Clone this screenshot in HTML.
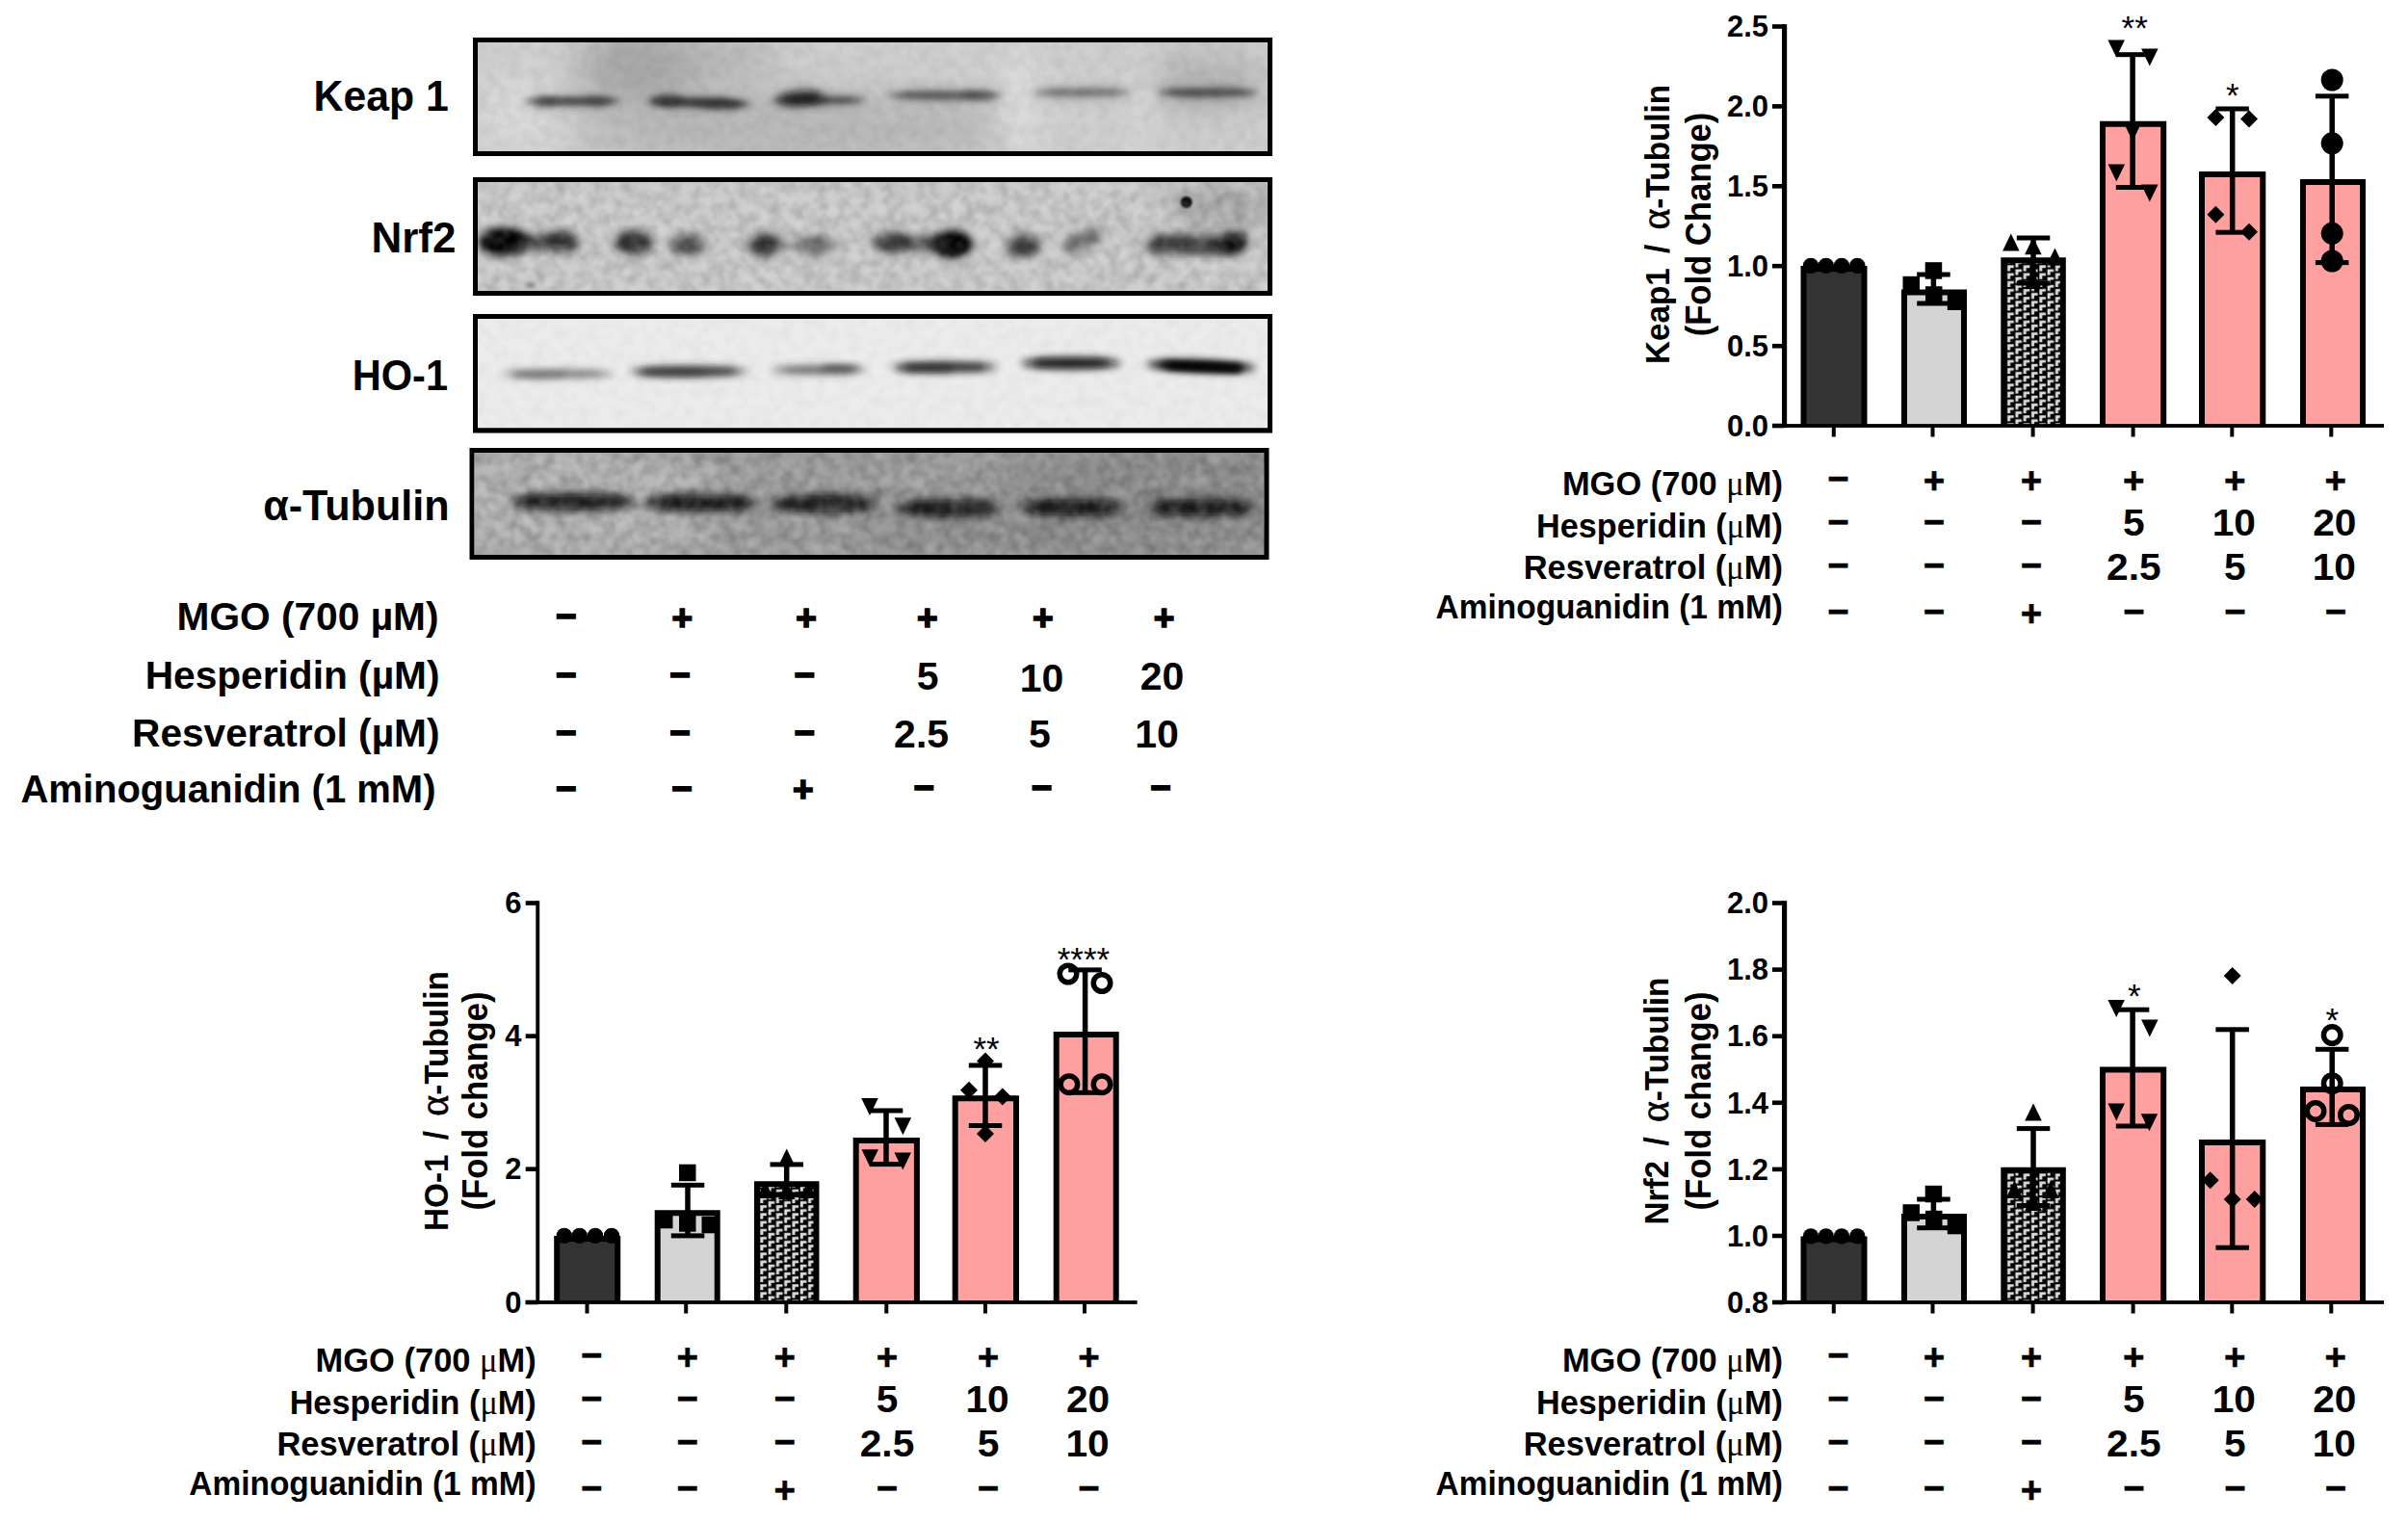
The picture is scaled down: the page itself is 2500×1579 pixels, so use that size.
<!DOCTYPE html>
<html lang="en"><head><meta charset="utf-8"><title>Keap1 / Nrf2 / HO-1 western blot and quantification</title>
<style>html,body{margin:0;padding:0;background:#fff}svg{display:block}text{font-family:"Liberation Sans", Arial, Helvetica, sans-serif;fill:#000}</style></head><body>
<svg width="2500" height="1579" viewBox="0 0 2500 1579">
<rect width="2500" height="1579" fill="#fff"/>
<defs>
<filter id="b1" x="-50%" y="-200%" width="200%" height="500%"><feGaussianBlur stdDeviation="1.2"/></filter>
<filter id="b2" x="-50%" y="-200%" width="200%" height="500%"><feGaussianBlur stdDeviation="2"/></filter>
<filter id="b3" x="-50%" y="-200%" width="200%" height="500%"><feGaussianBlur stdDeviation="3"/></filter>
<filter id="b4" x="-50%" y="-200%" width="200%" height="500%"><feGaussianBlur stdDeviation="4"/></filter>
<filter id="b5" x="-50%" y="-200%" width="200%" height="500%"><feGaussianBlur stdDeviation="5"/></filter>
<filter id="b6" x="-50%" y="-200%" width="200%" height="500%"><feGaussianBlur stdDeviation="6"/></filter>
<filter id="b8" x="-50%" y="-200%" width="200%" height="500%"><feGaussianBlur stdDeviation="8"/></filter>
<filter id="b12" x="-50%" y="-200%" width="200%" height="500%"><feGaussianBlur stdDeviation="12"/></filter>
<filter id="b20" x="-50%" y="-200%" width="200%" height="500%"><feGaussianBlur stdDeviation="20"/></filter>
<filter id="grain" x="0" y="0" width="100%" height="100%"><feTurbulence type="fractalNoise" baseFrequency="0.085" numOctaves="2" seed="7" result="n"/><feColorMatrix in="n" type="matrix" values="0 0 0 0 0  0 0 0 0 0  0 0 0 0 0  1.6 0 0 0 -0.55"/><feGaussianBlur stdDeviation="1.1"/></filter>
<filter id="grainL" x="0" y="0" width="100%" height="100%"><feTurbulence type="fractalNoise" baseFrequency="0.075" numOctaves="2" seed="11" result="n"/><feColorMatrix in="n" type="matrix" values="0 0 0 0 1  0 0 0 0 1  0 0 0 0 1  0 1.6 0 0 -0.55"/><feGaussianBlur stdDeviation="1.1"/></filter>
<pattern id="hatch" width="16.6" height="8.2" patternUnits="userSpaceOnUse"><rect width="16.6" height="8.2" fill="#000"/><path d="M0.8 0.6h6.6v2.9h-3.6v3.4h-3z" fill="#dcdcdc"/><path d="M9.1 4.7h6.6v2.9h-3.6v0.6h-3z M9.1 0h3v2.8h-3z" fill="#dcdcdc"/></pattern>
</defs>
<clipPath id="cb1"><rect x="496" y="44" width="820" height="113"/></clipPath>
<rect x="491" y="39" width="830" height="123" fill="#000"/>
<g clip-path="url(#cb1)">
<rect x="496" y="44" width="820" height="113" fill="#cfcfcf"/>
<rect x="496" y="44" width="820" height="113" fill="#cfcfcf"/>
<ellipse cx="660" cy="70" rx="60" ry="40" fill="#9c9c9c" opacity="0.8" filter="url(#b20)"/>
<ellipse cx="820" cy="135" rx="230" ry="40" fill="#b0b0b0" opacity="0.75" filter="url(#b20)"/>
<ellipse cx="720" cy="60" rx="90" ry="30" fill="#a6a6a6" opacity="0.6" filter="url(#b20)"/>
<ellipse cx="1250" cy="85" rx="70" ry="30" fill="#a8a8a8" opacity="0.7" filter="url(#b20)"/>
<ellipse cx="540" cy="120" rx="40" ry="40" fill="#dcdcdc" opacity="0.9" filter="url(#b20)"/>
<ellipse cx="1060" cy="110" rx="20" ry="60" fill="#dedede" opacity="0.8" filter="url(#b12)"/>
<ellipse cx="1185" cy="110" rx="18" ry="60" fill="#dadada" opacity="0.6" filter="url(#b12)"/>
<ellipse cx="595.0" cy="106" rx="51.0" ry="9" fill="#808080" opacity="0.35" filter="url(#b6)"/>
<ellipse cx="595.0" cy="105" rx="49.0" ry="4.0" fill="#303030" opacity="0.78" filter="url(#b3)"/>
<rect x="560" y="103.0" width="70" height="4" rx="2.0" fill="#303030" opacity="0.46799999999999997" filter="url(#b3)"/>
<ellipse cx="566" cy="106" rx="12" ry="6" fill="#2a2a2a" opacity="0.35" filter="url(#b3)"/>
<ellipse cx="622" cy="105" rx="14" ry="6" fill="#2a2a2a" opacity="0.3" filter="url(#b3)"/>
<ellipse cx="726.0" cy="107.5" rx="56.0" ry="10" fill="#808080" opacity="0.35" filter="url(#b6)" transform="rotate(1.5 726.0 107.5)"/>
<ellipse cx="726.0" cy="106.5" rx="54.0" ry="4.5" fill="#262626" opacity="0.8" filter="url(#b3)" transform="rotate(1.5 726.0 106.5)"/>
<rect x="686" y="104.0" width="80" height="5" rx="2.5" fill="#262626" opacity="0.48" filter="url(#b3)" transform="rotate(1.5 726.0 106.5)"/>
<ellipse cx="692" cy="104" rx="16" ry="7" fill="#1c1c1c" opacity="0.5" filter="url(#b3)"/>
<ellipse cx="748" cy="108.5" rx="22" ry="6" fill="#1c1c1c" opacity="0.35" filter="url(#b3)"/>
<ellipse cx="850.0" cy="105" rx="52.0" ry="8" fill="#808080" opacity="0.35" filter="url(#b6)"/>
<ellipse cx="850.0" cy="104" rx="50.0" ry="3.5" fill="#2c2c2c" opacity="0.72" filter="url(#b3)"/>
<rect x="814" y="102.5" width="72" height="3" rx="1.5" fill="#2c2c2c" opacity="0.432" filter="url(#b3)"/>
<ellipse cx="832" cy="102" rx="24" ry="8" fill="#0c0c0c" opacity="0.8" filter="url(#b4)" transform="rotate(-4 832 102)"/>
<ellipse cx="981.0" cy="100" rx="61.0" ry="9" fill="#808080" opacity="0.35" filter="url(#b6)"/>
<ellipse cx="981.0" cy="99" rx="59.0" ry="4.0" fill="#383838" opacity="0.68" filter="url(#b3)"/>
<rect x="936" y="97.0" width="90" height="4" rx="2.0" fill="#383838" opacity="0.40800000000000003" filter="url(#b3)"/>
<ellipse cx="1018" cy="99" rx="16" ry="6" fill="#2a2a2a" opacity="0.3" filter="url(#b3)"/>
<ellipse cx="1123.0" cy="97" rx="53.0" ry="8" fill="#808080" opacity="0.35" filter="url(#b6)"/>
<ellipse cx="1123.0" cy="96" rx="51.0" ry="3.5" fill="#444" opacity="0.58" filter="url(#b3)"/>
<rect x="1086" y="94.5" width="74" height="3" rx="1.5" fill="#444" opacity="0.348" filter="url(#b3)"/>
<ellipse cx="1253.5" cy="97" rx="53.5" ry="10" fill="#808080" opacity="0.35" filter="url(#b6)"/>
<ellipse cx="1253.5" cy="96" rx="51.5" ry="4.5" fill="#383838" opacity="0.7" filter="url(#b3)"/>
<rect x="1216" y="93.5" width="75" height="5" rx="2.5" fill="#383838" opacity="0.42" filter="url(#b3)"/>
<rect x="496" y="44" width="820" height="113" filter="url(#grain)" opacity="0.07"/>
<rect x="496" y="44" width="820" height="113" filter="url(#grainL)" opacity="0.06"/>
</g>
<clipPath id="cb2"><rect x="496" y="189" width="820" height="113"/></clipPath>
<rect x="491" y="184" width="830" height="123" fill="#000"/>
<g clip-path="url(#cb2)">
<rect x="496" y="189" width="820" height="113" fill="#c6c6c6"/>
<rect x="496" y="189" width="820" height="113" fill="#cbcbcb"/>
<ellipse cx="1270" cy="215" rx="60" ry="22" fill="#9a9a9a" opacity="0.7" filter="url(#b12)"/>
<ellipse cx="523" cy="251" rx="26" ry="15" fill="#000" opacity="1" filter="url(#b5)"/>
<ellipse cx="523" cy="251" rx="18" ry="10" fill="#000" opacity="1" filter="url(#b3)"/>
<ellipse cx="581" cy="251" rx="20" ry="11" fill="#1c1c1c" opacity="0.9" filter="url(#b5)"/>
<ellipse cx="552" cy="251" rx="16" ry="8" fill="#222" opacity="0.8" filter="url(#b5)"/>
<ellipse cx="658" cy="252" rx="20" ry="12" fill="#1a1a1a" opacity="0.92" filter="url(#b5)"/>
<ellipse cx="714" cy="254" rx="18" ry="11" fill="#2a2a2a" opacity="0.78" filter="url(#b5)"/>
<ellipse cx="794" cy="254" rx="17" ry="12" fill="#1c1c1c" opacity="0.9" filter="url(#b5)"/>
<ellipse cx="848" cy="255" rx="18" ry="11" fill="#333" opacity="0.62" filter="url(#b5)"/>
<ellipse cx="821" cy="255" rx="14" ry="6" fill="#444" opacity="0.4" filter="url(#b5)"/>
<ellipse cx="928" cy="252" rx="22" ry="11" fill="#222" opacity="0.85" filter="url(#b5)"/>
<ellipse cx="988" cy="253" rx="22" ry="14" fill="#000" opacity="1" filter="url(#b5)"/>
<ellipse cx="988" cy="255" rx="14" ry="10" fill="#000" opacity="0.9" filter="url(#b3)"/>
<ellipse cx="958" cy="253" rx="16" ry="8" fill="#222" opacity="0.7" filter="url(#b5)"/>
<ellipse cx="1063" cy="255" rx="17" ry="12" fill="#222" opacity="0.85" filter="url(#b5)"/>
<ellipse cx="1124" cy="250" rx="22" ry="10" fill="#333" opacity="0.6" filter="url(#b5)" transform="rotate(-25 1124 250)"/>
<rect x="1190" y="244.0" width="102" height="20" rx="10.0" fill="#262626" opacity="0.88" filter="url(#b5)"/>
<ellipse cx="1280" cy="252" rx="16" ry="10" fill="#000" opacity="0.95" filter="url(#b4)" transform="rotate(-25 1280 252)"/>
<circle cx="1231.7" cy="210" r="6" fill="#000" filter="url(#b1)"/>
<ellipse cx="551" cy="296" rx="4" ry="3" fill="#555" opacity="0.8" filter="url(#b2)"/>
<rect x="496" y="189" width="820" height="113" filter="url(#grain)" opacity="0.2"/>
<rect x="496" y="189" width="820" height="113" filter="url(#grainL)" opacity="0.24"/>
</g>
<clipPath id="cb3"><rect x="496" y="331" width="820" height="113.5"/></clipPath>
<rect x="491" y="326" width="830" height="123.5" fill="#000"/>
<g clip-path="url(#cb3)">
<rect x="496" y="331" width="820" height="113.5" fill="#ececec"/>
<ellipse cx="579.0" cy="388" rx="59.0" ry="4.5" fill="#444" opacity="0.55" filter="url(#b4)"/>
<rect x="534" y="386.0" width="90" height="4" rx="2.0" fill="#444" opacity="0.35750000000000004" filter="url(#b3)"/>
<ellipse cx="560" cy="389.5" rx="28" ry="4" fill="#444" opacity="0.3" filter="url(#b3)"/>
<ellipse cx="715.0" cy="385.5" rx="61.0" ry="5.5" fill="#222" opacity="0.75" filter="url(#b4)"/>
<rect x="668" y="382.5" width="94" height="6" rx="3.0" fill="#222" opacity="0.48750000000000004" filter="url(#b3)"/>
<ellipse cx="700" cy="387" rx="40" ry="4" fill="#222" opacity="0.35" filter="url(#b3)"/>
<ellipse cx="850.0" cy="384" rx="50.0" ry="4.5" fill="#333" opacity="0.6" filter="url(#b4)"/>
<rect x="814" y="382.0" width="72" height="4" rx="2.0" fill="#333" opacity="0.39" filter="url(#b3)"/>
<ellipse cx="872" cy="382" rx="20" ry="4" fill="#222" opacity="0.45" filter="url(#b3)"/>
<ellipse cx="981.0" cy="381" rx="55.0" ry="5.5" fill="#1c1c1c" opacity="0.8" filter="url(#b4)"/>
<rect x="940" y="378.0" width="82" height="6" rx="3.0" fill="#1c1c1c" opacity="0.52" filter="url(#b3)"/>
<ellipse cx="960" cy="383" rx="30" ry="4" fill="#111" opacity="0.4" filter="url(#b3)"/>
<ellipse cx="1112.0" cy="377" rx="52.0" ry="6.0" fill="#111" opacity="0.9" filter="url(#b4)"/>
<rect x="1074" y="373.5" width="76" height="7" rx="3.5" fill="#111" opacity="0.5850000000000001" filter="url(#b3)"/>
<ellipse cx="1247.0" cy="380" rx="57.0" ry="6.0" fill="#000" opacity="1" filter="url(#b4)" transform="rotate(2 1247.0 380)"/>
<rect x="1204" y="376.5" width="86" height="7" rx="3.5" fill="#000" opacity="0.65" filter="url(#b3)" transform="rotate(2 1247.0 380)"/>
<rect x="1212" y="378.0" width="76" height="7" rx="3.5" fill="#000" opacity="0.9" filter="url(#b3)" transform="rotate(3 1250.0 381.5)"/>
<rect x="496" y="331" width="820" height="113.5" filter="url(#grain)" opacity="0.04"/>
</g>
<clipPath id="cb4"><rect x="492.5" y="470" width="820.0" height="106"/></clipPath>
<rect x="487.5" y="465" width="830.0" height="116" fill="#000"/>
<g clip-path="url(#cb4)">
<rect x="492.5" y="470" width="820.0" height="106" fill="#9e9e9e"/>
<rect x="492" y="470" width="820" height="106" fill="#9e9e9e"/>
<ellipse cx="600" cy="520" rx="150" ry="70" fill="#b6b6b6" opacity="1" filter="url(#b20)"/>
<ellipse cx="1200" cy="520" rx="160" ry="70" fill="#8c8c8c" opacity="0.9" filter="url(#b20)"/>
<ellipse cx="1000" cy="560" rx="120" ry="20" fill="#8a8a8a" opacity="0.7" filter="url(#b12)"/>
<ellipse cx="594.5" cy="521" rx="66.5" ry="10" fill="#3a3a3a" opacity="0.55" filter="url(#b6)"/>
<ellipse cx="594.5" cy="521" rx="63.5" ry="7.5" fill="#1a1a1a" opacity="0.9" filter="url(#b4)"/>
<rect x="543" y="516.5" width="103" height="9" rx="4.5" fill="#141414" opacity="0.8" filter="url(#b4)"/>
<ellipse cx="727.5" cy="522" rx="61.5" ry="10" fill="#3a3a3a" opacity="0.55" filter="url(#b6)"/>
<ellipse cx="727.5" cy="522" rx="58.5" ry="7.5" fill="#1a1a1a" opacity="0.9" filter="url(#b4)"/>
<rect x="681" y="517.5" width="93" height="9" rx="4.5" fill="#141414" opacity="0.8" filter="url(#b4)"/>
<ellipse cx="856.0" cy="523" rx="58.0" ry="10" fill="#3a3a3a" opacity="0.55" filter="url(#b6)"/>
<ellipse cx="856.0" cy="523" rx="55.0" ry="7.5" fill="#1a1a1a" opacity="0.9" filter="url(#b4)"/>
<rect x="813" y="518.5" width="86" height="9" rx="4.5" fill="#141414" opacity="0.8" filter="url(#b4)"/>
<ellipse cx="984.5" cy="527.5" rx="58.5" ry="10" fill="#3a3a3a" opacity="0.55" filter="url(#b6)"/>
<ellipse cx="984.5" cy="527.5" rx="55.5" ry="7.5" fill="#1a1a1a" opacity="0.9" filter="url(#b4)"/>
<rect x="941" y="523.0" width="87" height="9" rx="4.5" fill="#141414" opacity="0.8" filter="url(#b4)"/>
<ellipse cx="1113.5" cy="527" rx="57.5" ry="10" fill="#3a3a3a" opacity="0.55" filter="url(#b6)"/>
<ellipse cx="1113.5" cy="527" rx="54.5" ry="7.5" fill="#1a1a1a" opacity="0.9" filter="url(#b4)"/>
<rect x="1071" y="522.5" width="85" height="9" rx="4.5" fill="#141414" opacity="0.8" filter="url(#b4)"/>
<ellipse cx="1247.0" cy="527" rx="59.0" ry="10" fill="#3a3a3a" opacity="0.55" filter="url(#b6)"/>
<ellipse cx="1247.0" cy="527" rx="56.0" ry="7.5" fill="#1a1a1a" opacity="0.9" filter="url(#b4)"/>
<rect x="1203" y="522.5" width="88" height="9" rx="4.5" fill="#141414" opacity="0.8" filter="url(#b4)"/>
<rect x="492.5" y="470" width="820.0" height="106" filter="url(#grain)" opacity="0.26"/>
<rect x="492.5" y="470" width="820.0" height="106" filter="url(#grainL)" opacity="0.22"/>
</g>
<text transform="translate(465.8 115.3) scale(0.972 1)" font-size="44" font-weight="bold" text-anchor="end" >Keap 1</text>
<text x="473.5" y="262" font-size="44" font-weight="bold" text-anchor="end" >Nrf2</text>
<text transform="translate(465 404.8) scale(0.945 1)" font-size="44" font-weight="bold" text-anchor="end" >HO-1</text>
<text transform="translate(466.5 539.5) scale(0.98 1)" font-size="44" font-weight="bold" text-anchor="end" >&#945;-Tubulin</text>
<text transform="translate(455.5 654.4) scale(1.017 1)" font-size="40" font-weight="bold" text-anchor="end" >MGO (700 &#181;M)</text>
<text transform="translate(456.5 715.2) scale(1.017 1)" font-size="40" font-weight="bold" text-anchor="end" >Hesperidin (&#181;M)</text>
<text transform="translate(456.5 774.8) scale(1.017 1)" font-size="40" font-weight="bold" text-anchor="end" >Resveratrol (&#181;M)</text>
<text transform="translate(452.5 833) scale(1.0 1)" font-size="40" font-weight="bold" text-anchor="end" >Aminoguanidin (1 mM)</text>
<text x="576.97" y="652.19" font-size="37" font-weight="bold" stroke="#000" stroke-width="1.6">&#8722;</text>
<text x="697.38" y="654.10" font-size="37" font-weight="bold" stroke="#000" stroke-width="1.6">+</text>
<text x="826.18" y="654.10" font-size="37" font-weight="bold" stroke="#000" stroke-width="1.6">+</text>
<text x="951.88" y="654.10" font-size="37" font-weight="bold" stroke="#000" stroke-width="1.6">+</text>
<text x="1072.08" y="654.10" font-size="37" font-weight="bold" stroke="#000" stroke-width="1.6">+</text>
<text x="1197.68" y="654.10" font-size="37" font-weight="bold" stroke="#000" stroke-width="1.6">+</text>
<text x="576.97" y="713.29" font-size="37" font-weight="bold" stroke="#000" stroke-width="1.6">&#8722;</text>
<text x="695.27" y="713.29" font-size="37" font-weight="bold" stroke="#000" stroke-width="1.6">&#8722;</text>
<text x="824.47" y="713.29" font-size="37" font-weight="bold" stroke="#000" stroke-width="1.6">&#8722;</text>
<text x="963.2" y="716.2" font-size="41" font-weight="bold" text-anchor="middle" >5</text>
<text x="1081.5" y="718" font-size="41" font-weight="bold" text-anchor="middle" >10</text>
<text x="1206.5" y="716.2" font-size="41" font-weight="bold" text-anchor="middle" >20</text>
<text x="576.97" y="772.69" font-size="37" font-weight="bold" stroke="#000" stroke-width="1.6">&#8722;</text>
<text x="695.27" y="772.69" font-size="37" font-weight="bold" stroke="#000" stroke-width="1.6">&#8722;</text>
<text x="824.47" y="772.69" font-size="37" font-weight="bold" stroke="#000" stroke-width="1.6">&#8722;</text>
<text x="956.6" y="775.6" font-size="41" font-weight="bold" text-anchor="middle" >2.5</text>
<text x="1079.5" y="775.6" font-size="41" font-weight="bold" text-anchor="middle" >5</text>
<text x="1201" y="775.6" font-size="41" font-weight="bold" text-anchor="middle" >10</text>
<text x="576.97" y="830.69" font-size="37" font-weight="bold" stroke="#000" stroke-width="1.6">&#8722;</text>
<text x="697.27" y="830.69" font-size="37" font-weight="bold" stroke="#000" stroke-width="1.6">&#8722;</text>
<text x="822.88" y="832.39" font-size="37" font-weight="bold" stroke="#000" stroke-width="1.6">+</text>
<text x="948.57" y="830.39" font-size="37" font-weight="bold" stroke="#000" stroke-width="1.6">&#8722;</text>
<text x="1070.77" y="830.39" font-size="37" font-weight="bold" stroke="#000" stroke-width="1.6">&#8722;</text>
<text x="1194.27" y="830.39" font-size="37" font-weight="bold" stroke="#000" stroke-width="1.6">&#8722;</text>
<path d="M1872.5 442.0V279.0H1935.5V442.0" fill="#333333" stroke="#000" stroke-width="6"/>
<path d="M1977.0 442.0V303.5H2039.0V442.0" fill="#d4d4d4" stroke="#000" stroke-width="6"/>
<path d="M2080.3 442.0V270.2H2141.8V442.0" fill="url(#hatch)" stroke="#000" stroke-width="6"/>
<path d="M2183.0 442.0V128.8H2246.2V442.0" fill="#ffa0a0" stroke="#000" stroke-width="6"/>
<path d="M2286.0 442.0V181.0H2349.3V442.0" fill="#ffa0a0" stroke="#000" stroke-width="6"/>
<path d="M2391.0 442.0V189.0H2453.0V442.0" fill="#ffa0a0" stroke="#000" stroke-width="6"/>
<circle cx="1880.0" cy="275.9" r="8.2"/>
<circle cx="1895.8" cy="275.9" r="8.2"/>
<circle cx="1912.0" cy="275.9" r="8.2"/>
<circle cx="1928.3" cy="275.9" r="8.2"/>
<path d="M2007.4 285.0V315.0" stroke="#000" stroke-width="5.5" fill="none"/>
<rect x="1990.2" y="282.5" width="34.5" height="5"/>
<rect x="1990.2" y="312.5" width="34.5" height="5"/>
<rect x="1998.7" y="272.2" width="17.5" height="17.5"/>
<rect x="1975.5" y="286.8" width="17.5" height="17.5"/>
<rect x="1999.0" y="297.2" width="17.5" height="17.5"/>
<rect x="2021.8" y="303.0" width="19" height="19"/>
<path d="M2111.0 247.0V294.0" stroke="#000" stroke-width="5.5" fill="none"/>
<rect x="2093.8" y="244.5" width="34.5" height="5"/>
<rect x="2093.8" y="291.5" width="34.5" height="5"/>
<path d="M2087.8 242.5L2096.6 260.5H2079.1Z"/>
<path d="M2110.8 246.2L2119.6 264.2H2102.1Z"/>
<path d="M2133.4 257.6L2142.2 275.6H2124.7Z"/>
<path d="M2111.0 282.0L2119.8 300.0H2102.2Z"/>
<path d="M2214.1 56.7V194.5" stroke="#000" stroke-width="5.5" fill="none"/>
<rect x="2196.8" y="54.2" width="34.5" height="5"/>
<rect x="2196.8" y="192.0" width="34.5" height="5"/>
<path d="M2188.4 41.5H2205.9L2197.2 59.5Z"/>
<path d="M2223.1 50.6H2240.6L2231.8 68.6Z"/>
<path d="M2205.3 128.5H2222.8L2214.1 146.5Z"/>
<path d="M2188.6 170.5H2206.1L2197.3 188.5Z"/>
<path d="M2223.1 191.5H2240.6L2231.8 209.5Z"/>
<text x="2216.2" y="41.0" font-size="35" font-weight="normal" text-anchor="middle" >**</text>
<path d="M2317.7 113.0V241.2" stroke="#000" stroke-width="5.5" fill="none"/>
<rect x="2300.4" y="110.5" width="34.5" height="5"/>
<rect x="2300.4" y="238.7" width="34.5" height="5"/>
<path d="M2300.4 113.0L2309.4 122.0L2300.4 131.0L2291.4 122.0Z"/>
<path d="M2335.0 114.6L2344.0 123.6L2335.0 132.6L2326.0 123.6Z"/>
<path d="M2300.4 213.7L2309.4 222.7L2300.4 231.7L2291.4 222.7Z"/>
<path d="M2335.0 231.8L2344.0 240.8L2335.0 249.8L2326.0 240.8Z"/>
<text x="2317.7" y="110.8" font-size="35" font-weight="normal" text-anchor="middle" >*</text>
<path d="M2421.2 99.8V272.6" stroke="#000" stroke-width="5.5" fill="none"/>
<rect x="2403.9" y="97.3" width="34.5" height="5"/>
<rect x="2403.9" y="270.1" width="34.5" height="5"/>
<circle cx="2421.2" cy="83.0" r="11.5"/>
<circle cx="2421.2" cy="148.8" r="11.5"/>
<circle cx="2421.2" cy="242.3" r="11.5"/>
<circle cx="2421.2" cy="271.0" r="11.5"/>
<rect x="1840.0" y="440.1" width="635" height="3.8"/>
<rect x="1850.0" y="25.2" width="5.2" height="418.8"/>
<rect x="1840.0" y="25.2" width="12.6" height="4.6"/>
<text x="1836" y="38.2" font-size="31" font-weight="bold" text-anchor="end" >2.5</text>
<rect x="1840.0" y="108.1" width="12.6" height="4.6"/>
<text x="1836" y="121.1" font-size="31" font-weight="bold" text-anchor="end" >2.0</text>
<rect x="1840.0" y="191.0" width="12.6" height="4.6"/>
<text x="1836" y="204.0" font-size="31" font-weight="bold" text-anchor="end" >1.5</text>
<rect x="1840.0" y="273.9" width="12.6" height="4.6"/>
<text x="1836" y="286.9" font-size="31" font-weight="bold" text-anchor="end" >1.0</text>
<rect x="1840.0" y="356.9" width="12.6" height="4.6"/>
<text x="1836" y="369.9" font-size="31" font-weight="bold" text-anchor="end" >0.5</text>
<rect x="1840.0" y="439.7" width="12.6" height="4.6"/>
<text x="1836" y="452.7" font-size="31" font-weight="bold" text-anchor="end" >0.0</text>
<rect x="1901.8" y="442.0" width="4" height="11.5"/>
<rect x="2004.5" y="442.0" width="4" height="11.5"/>
<rect x="2108.6" y="442.0" width="4" height="11.5"/>
<rect x="2212.6" y="442.0" width="4" height="11.5"/>
<rect x="2315.3" y="442.0" width="4" height="11.5"/>
<rect x="2418.3" y="442.0" width="4" height="11.5"/>
<text transform="translate(1732.6 233) rotate(-90) scale(0.925 1)" font-size="36" font-weight="bold" text-anchor="middle" word-spacing="6.5">Keap1 / <tspan font-style="normal" font-weight="normal" stroke="#000" stroke-width="0.7" font-family="'Liberation Serif', 'DejaVu Serif', serif" font-size="1.25em">&#945;</tspan>-Tubulin</text>
<text transform="translate(1775.5 233) rotate(-90) scale(0.962 1)" font-size="36" font-weight="bold" text-anchor="middle" word-spacing="0">(Fold Change)</text>
<path d="M1872.5 1352.0V1286.5H1935.5V1352.0" fill="#333333" stroke="#000" stroke-width="6"/>
<path d="M1977.0 1352.0V1262.9H2039.0V1352.0" fill="#d4d4d4" stroke="#000" stroke-width="6"/>
<path d="M2080.3 1352.0V1214.7H2141.8V1352.0" fill="url(#hatch)" stroke="#000" stroke-width="6"/>
<path d="M2183.0 1352.0V1110.4H2246.2V1352.0" fill="#ffa0a0" stroke="#000" stroke-width="6"/>
<path d="M2286.0 1352.0V1186.0H2349.3V1352.0" fill="#ffa0a0" stroke="#000" stroke-width="6"/>
<path d="M2391.0 1352.0V1131.0H2453.0V1352.0" fill="#ffa0a0" stroke="#000" stroke-width="6"/>
<circle cx="1880.0" cy="1283.4" r="8.2"/>
<circle cx="1895.8" cy="1283.4" r="8.2"/>
<circle cx="1912.0" cy="1283.4" r="8.2"/>
<circle cx="1928.3" cy="1283.4" r="8.2"/>
<path d="M2007.4 1245.0V1274.7" stroke="#000" stroke-width="5.5" fill="none"/>
<rect x="1990.2" y="1242.5" width="34.5" height="5"/>
<rect x="1990.2" y="1272.2" width="34.5" height="5"/>
<rect x="1998.7" y="1230.8" width="17.5" height="17.5"/>
<rect x="1975.5" y="1250.2" width="17.5" height="17.5"/>
<rect x="1999.0" y="1256.8" width="17.5" height="17.5"/>
<rect x="2021.8" y="1262.3" width="19" height="19"/>
<path d="M2111.0 1171.6V1251.6" stroke="#000" stroke-width="5.5" fill="none"/>
<rect x="2093.8" y="1169.1" width="34.5" height="5"/>
<rect x="2093.8" y="1249.1" width="34.5" height="5"/>
<path d="M2111.0 1145.4L2119.8 1163.4H2102.2Z"/>
<path d="M2091.3 1226.0L2100.1 1244.0H2082.6Z"/>
<path d="M2129.0 1226.0L2137.8 1244.0H2120.2Z"/>
<path d="M2111.0 1239.0L2119.8 1257.0H2102.2Z"/>
<path d="M2214.1 1048.2V1169.0" stroke="#000" stroke-width="5.5" fill="none"/>
<rect x="2196.8" y="1045.7" width="34.5" height="5"/>
<rect x="2196.8" y="1166.5" width="34.5" height="5"/>
<path d="M2188.4 1037.9H2205.9L2197.2 1055.9Z"/>
<path d="M2223.1 1058.4H2240.6L2231.8 1076.4Z"/>
<path d="M2188.4 1145.5H2205.9L2197.2 1163.5Z"/>
<path d="M2222.7 1156.2H2240.2L2231.4 1174.2Z"/>
<text x="2215.8" y="1045.7" font-size="35" font-weight="normal" text-anchor="middle" >*</text>
<path d="M2317.7 1068.8V1295.2" stroke="#000" stroke-width="5.5" fill="none"/>
<rect x="2300.4" y="1066.3" width="34.5" height="5"/>
<rect x="2300.4" y="1292.7" width="34.5" height="5"/>
<path d="M2317.7 1003.9L2326.7 1012.9L2317.7 1021.9L2308.7 1012.9Z"/>
<path d="M2294.7 1216.3L2303.7 1225.3L2294.7 1234.3L2285.7 1225.3Z"/>
<path d="M2317.7 1236.0L2326.7 1245.0L2317.7 1254.0L2308.7 1245.0Z"/>
<path d="M2340.7 1236.0L2349.7 1245.0L2340.7 1254.0L2331.7 1245.0Z"/>
<path d="M2421.2 1089.3V1167.4" stroke="#000" stroke-width="5.5" fill="none"/>
<rect x="2403.9" y="1086.8" width="34.5" height="5"/>
<rect x="2403.9" y="1164.9" width="34.5" height="5"/>
<circle cx="2421.2" cy="1074.5" r="8.75" fill="none" stroke="#000" stroke-width="5.5"/>
<circle cx="2421.2" cy="1124.7" r="8.75" fill="none" stroke="#000" stroke-width="5.5"/>
<circle cx="2404.0" cy="1153.4" r="8.75" fill="none" stroke="#000" stroke-width="5.5"/>
<circle cx="2438.5" cy="1157.5" r="8.75" fill="none" stroke="#000" stroke-width="5.5"/>
<text x="2421.2" y="1071.2" font-size="35" font-weight="normal" text-anchor="middle" >*</text>
<rect x="1840.0" y="1350.1" width="635" height="3.8"/>
<rect x="1850.0" y="935.2" width="5.2" height="418.8"/>
<rect x="1840.0" y="935.2" width="12.6" height="4.6"/>
<text x="1836" y="948.2" font-size="31" font-weight="bold" text-anchor="end" >2.0</text>
<rect x="1840.0" y="1004.3" width="12.6" height="4.6"/>
<text x="1836" y="1017.3" font-size="31" font-weight="bold" text-anchor="end" >1.8</text>
<rect x="1840.0" y="1073.4" width="12.6" height="4.6"/>
<text x="1836" y="1086.4" font-size="31" font-weight="bold" text-anchor="end" >1.6</text>
<rect x="1840.0" y="1142.5" width="12.6" height="4.6"/>
<text x="1836" y="1155.5" font-size="31" font-weight="bold" text-anchor="end" >1.4</text>
<rect x="1840.0" y="1211.6" width="12.6" height="4.6"/>
<text x="1836" y="1224.6" font-size="31" font-weight="bold" text-anchor="end" >1.2</text>
<rect x="1840.0" y="1280.7" width="12.6" height="4.6"/>
<text x="1836" y="1293.7" font-size="31" font-weight="bold" text-anchor="end" >1.0</text>
<rect x="1840.0" y="1349.7" width="12.6" height="4.6"/>
<text x="1836" y="1362.7" font-size="31" font-weight="bold" text-anchor="end" >0.8</text>
<rect x="1901.8" y="1352.0" width="4" height="11.5"/>
<rect x="2004.5" y="1352.0" width="4" height="11.5"/>
<rect x="2108.6" y="1352.0" width="4" height="11.5"/>
<rect x="2212.6" y="1352.0" width="4" height="11.5"/>
<rect x="2315.3" y="1352.0" width="4" height="11.5"/>
<rect x="2418.3" y="1352.0" width="4" height="11.5"/>
<text transform="translate(1732.2 1143) rotate(-90) scale(0.925 1)" font-size="36" font-weight="bold" text-anchor="middle" word-spacing="6.5">Nrf2 / <tspan font-style="normal" font-weight="normal" stroke="#000" stroke-width="0.7" font-family="'Liberation Serif', 'DejaVu Serif', serif" font-size="1.25em">&#945;</tspan>-Tubulin</text>
<text transform="translate(1775.8 1143) rotate(-90) scale(0.962 1)" font-size="36" font-weight="bold" text-anchor="middle" word-spacing="0">(Fold change)</text>
<path d="M578.2 1352.0V1286.0H641.2V1352.0" fill="#333333" stroke="#000" stroke-width="6"/>
<path d="M682.7 1352.0V1259.3H744.7V1352.0" fill="#d4d4d4" stroke="#000" stroke-width="6"/>
<path d="M786.0 1352.0V1229.2H847.5V1352.0" fill="url(#hatch)" stroke="#000" stroke-width="6"/>
<path d="M888.7 1352.0V1184.0H951.9V1352.0" fill="#ffa0a0" stroke="#000" stroke-width="6"/>
<path d="M991.7 1352.0V1140.2H1055.0V1352.0" fill="#ffa0a0" stroke="#000" stroke-width="6"/>
<path d="M1096.7 1352.0V1074.0H1158.7V1352.0" fill="#ffa0a0" stroke="#000" stroke-width="6"/>
<circle cx="585.8" cy="1282.9" r="8.2"/>
<circle cx="601.7" cy="1282.9" r="8.2"/>
<circle cx="618.0" cy="1282.9" r="8.2"/>
<circle cx="635.0" cy="1282.9" r="8.2"/>
<path d="M714.0 1230.3V1282.9" stroke="#000" stroke-width="5.5" fill="none"/>
<rect x="696.8" y="1227.8" width="34.5" height="5"/>
<rect x="696.8" y="1280.4" width="34.5" height="5"/>
<rect x="705.0" y="1208.7" width="17.5" height="17.5"/>
<rect x="681.0" y="1257.8" width="17.5" height="17.5"/>
<rect x="705.0" y="1261.2" width="17.5" height="17.5"/>
<rect x="728.5" y="1262.8" width="17.5" height="17.5"/>
<path d="M816.7 1208.9V1240.0" stroke="#000" stroke-width="5.5" fill="none"/>
<rect x="799.5" y="1206.4" width="34.5" height="5"/>
<rect x="799.5" y="1237.5" width="34.5" height="5"/>
<path d="M816.7 1192.5L825.5 1210.5H808.0Z"/>
<path d="M794.5 1226.0L803.2 1244.0H785.8Z"/>
<path d="M816.7 1227.0L825.5 1245.0H808.0Z"/>
<path d="M839.0 1226.0L847.8 1244.0H830.2Z"/>
<path d="M920.0 1153.0V1208.6" stroke="#000" stroke-width="5.5" fill="none"/>
<rect x="902.8" y="1150.5" width="34.5" height="5"/>
<rect x="902.8" y="1206.1" width="34.5" height="5"/>
<path d="M894.2 1140.0H911.8L903.0 1158.0Z"/>
<path d="M928.6 1160.2H946.1L937.4 1178.2Z"/>
<path d="M894.5 1193.3H912.0L903.2 1211.3Z"/>
<path d="M928.5 1196.6H946.0L937.3 1214.6Z"/>
<path d="M1023.0 1106.0V1168.5" stroke="#000" stroke-width="5.5" fill="none"/>
<rect x="1005.8" y="1103.5" width="34.5" height="5"/>
<rect x="1005.8" y="1166.0" width="34.5" height="5"/>
<path d="M1023.0 1092.4L1032.0 1101.4L1023.0 1110.4L1014.0 1101.4Z"/>
<path d="M1006.0 1122.8L1015.0 1131.8L1006.0 1140.8L997.0 1131.8Z"/>
<path d="M1040.8 1129.4L1049.8 1138.4L1040.8 1147.4L1031.8 1138.4Z"/>
<path d="M1023.0 1168.0L1032.0 1177.0L1023.0 1186.0L1014.0 1177.0Z"/>
<text x="1024" y="1101.2" font-size="35" font-weight="normal" text-anchor="middle" >**</text>
<path d="M1126.6 1006.9V1134.3" stroke="#000" stroke-width="5.5" fill="none"/>
<rect x="1109.3" y="1004.4" width="34.5" height="5"/>
<rect x="1109.3" y="1131.8" width="34.5" height="5"/>
<circle cx="1109.0" cy="1011.0" r="8.75" fill="none" stroke="#000" stroke-width="5.5"/>
<circle cx="1144.0" cy="1020.5" r="8.75" fill="none" stroke="#000" stroke-width="5.5"/>
<circle cx="1109.9" cy="1125.7" r="8.75" fill="none" stroke="#000" stroke-width="5.5"/>
<circle cx="1144.0" cy="1125.7" r="8.75" fill="none" stroke="#000" stroke-width="5.5"/>
<text x="1125" y="1008.4" font-size="35" font-weight="normal" text-anchor="middle" >****</text>
<rect x="545.7" y="1350.1" width="635" height="3.8"/>
<rect x="556.3" y="935.2" width="3.9" height="418.8"/>
<rect x="545.7" y="935.2" width="12.6" height="4.6"/>
<text x="541.5" y="948.2" font-size="31" font-weight="bold" text-anchor="end" >6</text>
<rect x="545.7" y="1073.3" width="12.6" height="4.6"/>
<text x="541.5" y="1086.3" font-size="31" font-weight="bold" text-anchor="end" >4</text>
<rect x="545.7" y="1211.4" width="12.6" height="4.6"/>
<text x="541.5" y="1224.4" font-size="31" font-weight="bold" text-anchor="end" >2</text>
<rect x="545.7" y="1349.7" width="12.6" height="4.6"/>
<text x="541.5" y="1362.7" font-size="31" font-weight="bold" text-anchor="end" >0</text>
<rect x="607.5" y="1352.0" width="4" height="11.5"/>
<rect x="710.2" y="1352.0" width="4" height="11.5"/>
<rect x="814.3" y="1352.0" width="4" height="11.5"/>
<rect x="918.3" y="1352.0" width="4" height="11.5"/>
<rect x="1021.0" y="1352.0" width="4" height="11.5"/>
<rect x="1124.0" y="1352.0" width="4" height="11.5"/>
<text transform="translate(464.6 1143) rotate(-90) scale(0.925 1)" font-size="36" font-weight="bold" text-anchor="middle" word-spacing="6.5">HO-1 / <tspan font-style="normal" font-weight="normal" stroke="#000" stroke-width="0.7" font-family="'Liberation Serif', 'DejaVu Serif', serif" font-size="1.25em">&#945;</tspan>-Tubulin</text>
<text transform="translate(506.3 1143) rotate(-90) scale(0.962 1)" font-size="36" font-weight="bold" text-anchor="middle" word-spacing="0">(Fold change)</text>
<text transform="translate(1851 514.3) scale(0.985 1)" font-size="35" font-weight="bold" text-anchor="end" >MGO (700 <tspan font-weight="normal" font-family="'Liberation Serif', 'DejaVu Serif', serif">&#956;</tspan>M)</text>
<text transform="translate(1851 558.1) scale(0.978 1)" font-size="35" font-weight="bold" text-anchor="end" >Hesperidin (<tspan font-weight="normal" font-family="'Liberation Serif', 'DejaVu Serif', serif">&#956;</tspan>M)</text>
<text transform="translate(1851 601.3) scale(0.985 1)" font-size="35" font-weight="bold" text-anchor="end" >Resveratrol (<tspan font-weight="normal" font-family="'Liberation Serif', 'DejaVu Serif', serif">&#956;</tspan>M)</text>
<text transform="translate(1851 641.8) scale(0.956 1)" font-size="35" font-weight="bold" text-anchor="end" >Aminoguanidin (1 mM)</text>
<text x="1897.24" y="509.50" font-size="38.5" font-weight="bold" stroke="#000" stroke-width="0.5">&#8722;</text>
<text x="1996.74" y="511.60" font-size="38.5" font-weight="bold" stroke="#000" stroke-width="0.5">+</text>
<text x="2097.74" y="511.60" font-size="38.5" font-weight="bold" stroke="#000" stroke-width="0.5">+</text>
<text x="2204.04" y="511.60" font-size="38.5" font-weight="bold" stroke="#000" stroke-width="0.5">+</text>
<text x="2309.04" y="511.60" font-size="38.5" font-weight="bold" stroke="#000" stroke-width="0.5">+</text>
<text x="2413.54" y="511.60" font-size="38.5" font-weight="bold" stroke="#000" stroke-width="0.5">+</text>
<text x="1897.24" y="554.70" font-size="38.5" font-weight="bold" stroke="#000" stroke-width="0.5">&#8722;</text>
<text x="1897.24" y="600.10" font-size="38.5" font-weight="bold" stroke="#000" stroke-width="0.5">&#8722;</text>
<text x="1996.84" y="554.70" font-size="38.5" font-weight="bold" stroke="#000" stroke-width="0.5">&#8722;</text>
<text x="1996.84" y="600.10" font-size="38.5" font-weight="bold" stroke="#000" stroke-width="0.5">&#8722;</text>
<text x="2097.84" y="554.70" font-size="38.5" font-weight="bold" stroke="#000" stroke-width="0.5">&#8722;</text>
<text x="2097.84" y="600.10" font-size="38.5" font-weight="bold" stroke="#000" stroke-width="0.5">&#8722;</text>
<text transform="translate(2215.3 556.4) scale(1.03 1)" font-size="39.5" font-weight="bold" text-anchor="middle" >5</text>
<text transform="translate(2319.3 556.4) scale(1.03 1)" font-size="39.5" font-weight="bold" text-anchor="middle" >10</text>
<text transform="translate(2423.8 556.4) scale(1.03 1)" font-size="39.5" font-weight="bold" text-anchor="middle" >20</text>
<text transform="translate(2215.3 601.6) scale(1.03 1)" font-size="39.5" font-weight="bold" text-anchor="middle" >2.5</text>
<text transform="translate(2320.3 601.6) scale(1.03 1)" font-size="39.5" font-weight="bold" text-anchor="middle" >5</text>
<text transform="translate(2423.3 601.6) scale(1.03 1)" font-size="39.5" font-weight="bold" text-anchor="middle" >10</text>
<text x="1897.24" y="647.70" font-size="38.5" font-weight="bold" stroke="#000" stroke-width="0.5">&#8722;</text>
<text x="1996.84" y="647.70" font-size="38.5" font-weight="bold" stroke="#000" stroke-width="0.5">&#8722;</text>
<text x="2097.74" y="649.90" font-size="38.5" font-weight="bold" stroke="#000" stroke-width="0.5">+</text>
<text x="2204.14" y="647.70" font-size="38.5" font-weight="bold" stroke="#000" stroke-width="0.5">&#8722;</text>
<text x="2309.14" y="647.70" font-size="38.5" font-weight="bold" stroke="#000" stroke-width="0.5">&#8722;</text>
<text x="2413.64" y="647.70" font-size="38.5" font-weight="bold" stroke="#000" stroke-width="0.5">&#8722;</text>
<text transform="translate(1851 1424.3) scale(0.985 1)" font-size="35" font-weight="bold" text-anchor="end" >MGO (700 <tspan font-weight="normal" font-family="'Liberation Serif', 'DejaVu Serif', serif">&#956;</tspan>M)</text>
<text transform="translate(1851 1468.1) scale(0.978 1)" font-size="35" font-weight="bold" text-anchor="end" >Hesperidin (<tspan font-weight="normal" font-family="'Liberation Serif', 'DejaVu Serif', serif">&#956;</tspan>M)</text>
<text transform="translate(1851 1511.3) scale(0.985 1)" font-size="35" font-weight="bold" text-anchor="end" >Resveratrol (<tspan font-weight="normal" font-family="'Liberation Serif', 'DejaVu Serif', serif">&#956;</tspan>M)</text>
<text transform="translate(1851 1551.8) scale(0.956 1)" font-size="35" font-weight="bold" text-anchor="end" >Aminoguanidin (1 mM)</text>
<text x="1897.24" y="1419.50" font-size="38.5" font-weight="bold" stroke="#000" stroke-width="0.5">&#8722;</text>
<text x="1996.74" y="1421.60" font-size="38.5" font-weight="bold" stroke="#000" stroke-width="0.5">+</text>
<text x="2097.74" y="1421.60" font-size="38.5" font-weight="bold" stroke="#000" stroke-width="0.5">+</text>
<text x="2204.04" y="1421.60" font-size="38.5" font-weight="bold" stroke="#000" stroke-width="0.5">+</text>
<text x="2309.04" y="1421.60" font-size="38.5" font-weight="bold" stroke="#000" stroke-width="0.5">+</text>
<text x="2413.54" y="1421.60" font-size="38.5" font-weight="bold" stroke="#000" stroke-width="0.5">+</text>
<text x="1897.24" y="1464.70" font-size="38.5" font-weight="bold" stroke="#000" stroke-width="0.5">&#8722;</text>
<text x="1897.24" y="1510.10" font-size="38.5" font-weight="bold" stroke="#000" stroke-width="0.5">&#8722;</text>
<text x="1996.84" y="1464.70" font-size="38.5" font-weight="bold" stroke="#000" stroke-width="0.5">&#8722;</text>
<text x="1996.84" y="1510.10" font-size="38.5" font-weight="bold" stroke="#000" stroke-width="0.5">&#8722;</text>
<text x="2097.84" y="1464.70" font-size="38.5" font-weight="bold" stroke="#000" stroke-width="0.5">&#8722;</text>
<text x="2097.84" y="1510.10" font-size="38.5" font-weight="bold" stroke="#000" stroke-width="0.5">&#8722;</text>
<text transform="translate(2215.3 1466.4) scale(1.03 1)" font-size="39.5" font-weight="bold" text-anchor="middle" >5</text>
<text transform="translate(2319.3 1466.4) scale(1.03 1)" font-size="39.5" font-weight="bold" text-anchor="middle" >10</text>
<text transform="translate(2423.8 1466.4) scale(1.03 1)" font-size="39.5" font-weight="bold" text-anchor="middle" >20</text>
<text transform="translate(2215.3 1511.6) scale(1.03 1)" font-size="39.5" font-weight="bold" text-anchor="middle" >2.5</text>
<text transform="translate(2320.3 1511.6) scale(1.03 1)" font-size="39.5" font-weight="bold" text-anchor="middle" >5</text>
<text transform="translate(2423.3 1511.6) scale(1.03 1)" font-size="39.5" font-weight="bold" text-anchor="middle" >10</text>
<text x="1897.24" y="1557.70" font-size="38.5" font-weight="bold" stroke="#000" stroke-width="0.5">&#8722;</text>
<text x="1996.84" y="1557.70" font-size="38.5" font-weight="bold" stroke="#000" stroke-width="0.5">&#8722;</text>
<text x="2097.74" y="1559.90" font-size="38.5" font-weight="bold" stroke="#000" stroke-width="0.5">+</text>
<text x="2204.14" y="1557.70" font-size="38.5" font-weight="bold" stroke="#000" stroke-width="0.5">&#8722;</text>
<text x="2309.14" y="1557.70" font-size="38.5" font-weight="bold" stroke="#000" stroke-width="0.5">&#8722;</text>
<text x="2413.64" y="1557.70" font-size="38.5" font-weight="bold" stroke="#000" stroke-width="0.5">&#8722;</text>
<text transform="translate(556.7 1424.3) scale(0.985 1)" font-size="35" font-weight="bold" text-anchor="end" >MGO (700 <tspan font-weight="normal" font-family="'Liberation Serif', 'DejaVu Serif', serif">&#956;</tspan>M)</text>
<text transform="translate(556.7 1468.1) scale(0.978 1)" font-size="35" font-weight="bold" text-anchor="end" >Hesperidin (<tspan font-weight="normal" font-family="'Liberation Serif', 'DejaVu Serif', serif">&#956;</tspan>M)</text>
<text transform="translate(556.7 1511.3) scale(0.985 1)" font-size="35" font-weight="bold" text-anchor="end" >Resveratrol (<tspan font-weight="normal" font-family="'Liberation Serif', 'DejaVu Serif', serif">&#956;</tspan>M)</text>
<text transform="translate(556.7 1551.8) scale(0.956 1)" font-size="35" font-weight="bold" text-anchor="end" >Aminoguanidin (1 mM)</text>
<text x="602.94" y="1419.50" font-size="38.5" font-weight="bold" stroke="#000" stroke-width="0.5">&#8722;</text>
<text x="702.44" y="1421.60" font-size="38.5" font-weight="bold" stroke="#000" stroke-width="0.5">+</text>
<text x="803.44" y="1421.60" font-size="38.5" font-weight="bold" stroke="#000" stroke-width="0.5">+</text>
<text x="909.74" y="1421.60" font-size="38.5" font-weight="bold" stroke="#000" stroke-width="0.5">+</text>
<text x="1014.74" y="1421.60" font-size="38.5" font-weight="bold" stroke="#000" stroke-width="0.5">+</text>
<text x="1119.24" y="1421.60" font-size="38.5" font-weight="bold" stroke="#000" stroke-width="0.5">+</text>
<text x="602.94" y="1464.70" font-size="38.5" font-weight="bold" stroke="#000" stroke-width="0.5">&#8722;</text>
<text x="602.94" y="1510.10" font-size="38.5" font-weight="bold" stroke="#000" stroke-width="0.5">&#8722;</text>
<text x="702.54" y="1464.70" font-size="38.5" font-weight="bold" stroke="#000" stroke-width="0.5">&#8722;</text>
<text x="702.54" y="1510.10" font-size="38.5" font-weight="bold" stroke="#000" stroke-width="0.5">&#8722;</text>
<text x="803.54" y="1464.70" font-size="38.5" font-weight="bold" stroke="#000" stroke-width="0.5">&#8722;</text>
<text x="803.54" y="1510.10" font-size="38.5" font-weight="bold" stroke="#000" stroke-width="0.5">&#8722;</text>
<text transform="translate(921.0 1466.4) scale(1.03 1)" font-size="39.5" font-weight="bold" text-anchor="middle" >5</text>
<text transform="translate(1025.0 1466.4) scale(1.03 1)" font-size="39.5" font-weight="bold" text-anchor="middle" >10</text>
<text transform="translate(1129.5 1466.4) scale(1.03 1)" font-size="39.5" font-weight="bold" text-anchor="middle" >20</text>
<text transform="translate(921.0 1511.6) scale(1.03 1)" font-size="39.5" font-weight="bold" text-anchor="middle" >2.5</text>
<text transform="translate(1026.0 1511.6) scale(1.03 1)" font-size="39.5" font-weight="bold" text-anchor="middle" >5</text>
<text transform="translate(1129.0 1511.6) scale(1.03 1)" font-size="39.5" font-weight="bold" text-anchor="middle" >10</text>
<text x="602.94" y="1557.70" font-size="38.5" font-weight="bold" stroke="#000" stroke-width="0.5">&#8722;</text>
<text x="702.54" y="1557.70" font-size="38.5" font-weight="bold" stroke="#000" stroke-width="0.5">&#8722;</text>
<text x="803.44" y="1559.90" font-size="38.5" font-weight="bold" stroke="#000" stroke-width="0.5">+</text>
<text x="909.84" y="1557.70" font-size="38.5" font-weight="bold" stroke="#000" stroke-width="0.5">&#8722;</text>
<text x="1014.84" y="1557.70" font-size="38.5" font-weight="bold" stroke="#000" stroke-width="0.5">&#8722;</text>
<text x="1119.34" y="1557.70" font-size="38.5" font-weight="bold" stroke="#000" stroke-width="0.5">&#8722;</text>
</svg></body></html>
